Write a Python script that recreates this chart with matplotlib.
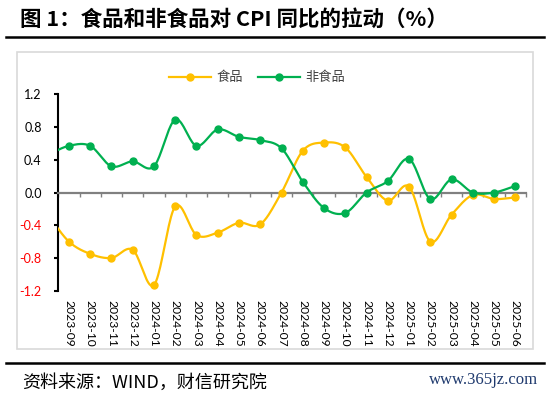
import numpy as np
import matplotlib.pyplot as plt
from matplotlib.lines import Line2D
from matplotlib.patches import Rectangle

plt.rcParams['font.family'] = ['Noto Sans CJK SC', 'DejaVu Sans']

# 数据（2023-08 仅用于左端曲线的延伸，不显示标签）
months = ['2023-08', '2023-09', '2023-10', '2023-11', '2023-12', '2024-01', '2024-02',
          '2024-03', '2024-04', '2024-05', '2024-06', '2024-07', '2024-08', '2024-09',
          '2024-10', '2024-11', '2024-12', '2025-01', '2025-02', '2025-03', '2025-04',
          '2025-05', '2025-06']
food = [-0.27, -0.60, -0.75, -0.80, -0.70, -1.13, -0.17, -0.52, -0.49, -0.37, -0.39,
        0.00, 0.51, 0.61, 0.55, 0.19, -0.10, 0.07, -0.60, -0.27, -0.03, -0.08, -0.06]
nonfood = [0.46, 0.57, 0.57, 0.32, 0.38, 0.32, 0.89, 0.57, 0.77, 0.68, 0.64,
           0.54, 0.13, -0.19, -0.25, 0.00, 0.14, 0.41, -0.08, 0.16, 0.00, 0.00, 0.08]
yticks = [-1.2, -0.8, -0.4, 0.0, 0.4, 0.8, 1.2]

c_food = '#FFC000'
c_nonfood = '#00B050'


def smooth(y, n=20):
    # 平滑曲线（类似Excel的平滑线）
    y = np.asarray(y, float)
    m = np.gradient(y)
    t = np.linspace(0, 1, n, endpoint=False)
    h00 = 2*t**3 - 3*t**2 + 1
    h10 = t**3 - 2*t**2 + t
    h01 = -2*t**3 + 3*t**2
    h11 = t**3 - t**2
    xs, ys = [], []
    for i in range(len(y) - 1):
        xs.append(i + t)
        ys.append(h00*y[i] + h10*m[i] + h01*y[i+1] + h11*m[i+1])
    xs.append([len(y) - 1])
    ys.append([y[-1]])
    return np.concatenate(xs), np.concatenate(ys)


W, H = 550, 399
fig = plt.figure(figsize=(W/100, H/100), dpi=100)
ax = fig.add_axes([58.3/W, 1-290.7/H, (526-58.3)/W, (290.7-94.3)/H])

x = np.arange(len(months))
for vals, c in [(food, c_food), (nonfood, c_nonfood)]:
    xs, ys = smooth(vals)
    ax.plot(xs, ys, color=c, lw=1.6, zorder=3)
    ax.plot(x, vals, 'o', color=c, ms=5, zorder=4)

ax.set_xlim(0.5, len(months) - 0.5)
ax.set_ylim(-1.2, 1.2)

# y轴
ax.set_yticks(yticks)
ax.set_yticklabels(['%.1f' % v for v in yticks])
for lbl, v in zip(ax.get_yticklabels(), yticks):
    if v < 0:
        lbl.set_color('red')
ax.spines['left'].set_color('black')
ax.spines['left'].set_linewidth(1.5)
ax.tick_params(axis='y', direction='out', length=3, width=1.5, color='black',
               labelsize=9, pad=9, labelfontfamily='Lato')

# x轴在0处
ax.spines['top'].set_visible(False)
ax.spines['right'].set_visible(False)
ax.spines['bottom'].set_position(('data', 0))
ax.spines['bottom'].set_color('#808080')
ax.spines['bottom'].set_linewidth(1.6)
ax.set_xticks(np.arange(0.5, len(months), 1))
ax.set_xticklabels([])
ax.tick_params(axis='x', direction='out', length=3, width=1, color='#808080')

sec = ax.secondary_xaxis('bottom')
sec.set_xticks(x[1:])
sec.set_xticklabels(months[1:])
sec.spines['bottom'].set_visible(False)
sec.tick_params(length=0, pad=7, rotation=-90, labelsize=8.7, labelfontfamily='Lato')

# 图例
handles = [Line2D([], [], color=c_food, lw=1.6, marker='o', ms=5),
           Line2D([], [], color=c_nonfood, lw=1.6, marker='o', ms=5)]
fig.legend(handles, ['食品', '非食品'], loc='center', bbox_to_anchor=(257/W, 1-78/H),
           ncol=2, frameon=False, fontsize=9.5, handlelength=3.2, columnspacing=1.1,
           handletextpad=0.4, labelcolor='#404040')

# 外框、标题、来源
fig.add_artist(Rectangle((17.3/W, 1-349.3/H), (533.3-17.3)/W, (349.3-51.7)/H,
                         fill=False, ec='#D9D9D9', lw=1.2, transform=fig.transFigure))
fig.add_artist(Line2D([6/W, 544/W], [1-36.7/H]*2, color='black', lw=1.8))
fig.add_artist(Line2D([6/W, 544/W], [1-363.3/H]*2, color='black', lw=1.8))
fig.text(20/W, 1-19/H, '图 1：食品和非食品对 CPI 同比的拉动（%）', fontsize=15.5,
         fontweight='bold', va='center', ha='left')
fig.text(21.7/W, 1-383/H, '资料来源：WIND，财信研究院', fontsize=13, va='center', ha='left')
fig.text(538/W, 1-380/H, 'www.365jz.com', fontsize=12, va='center', ha='right',
         color='#1F3A6E', family='Liberation Serif')

fig.savefig('out.png', dpi=100)
